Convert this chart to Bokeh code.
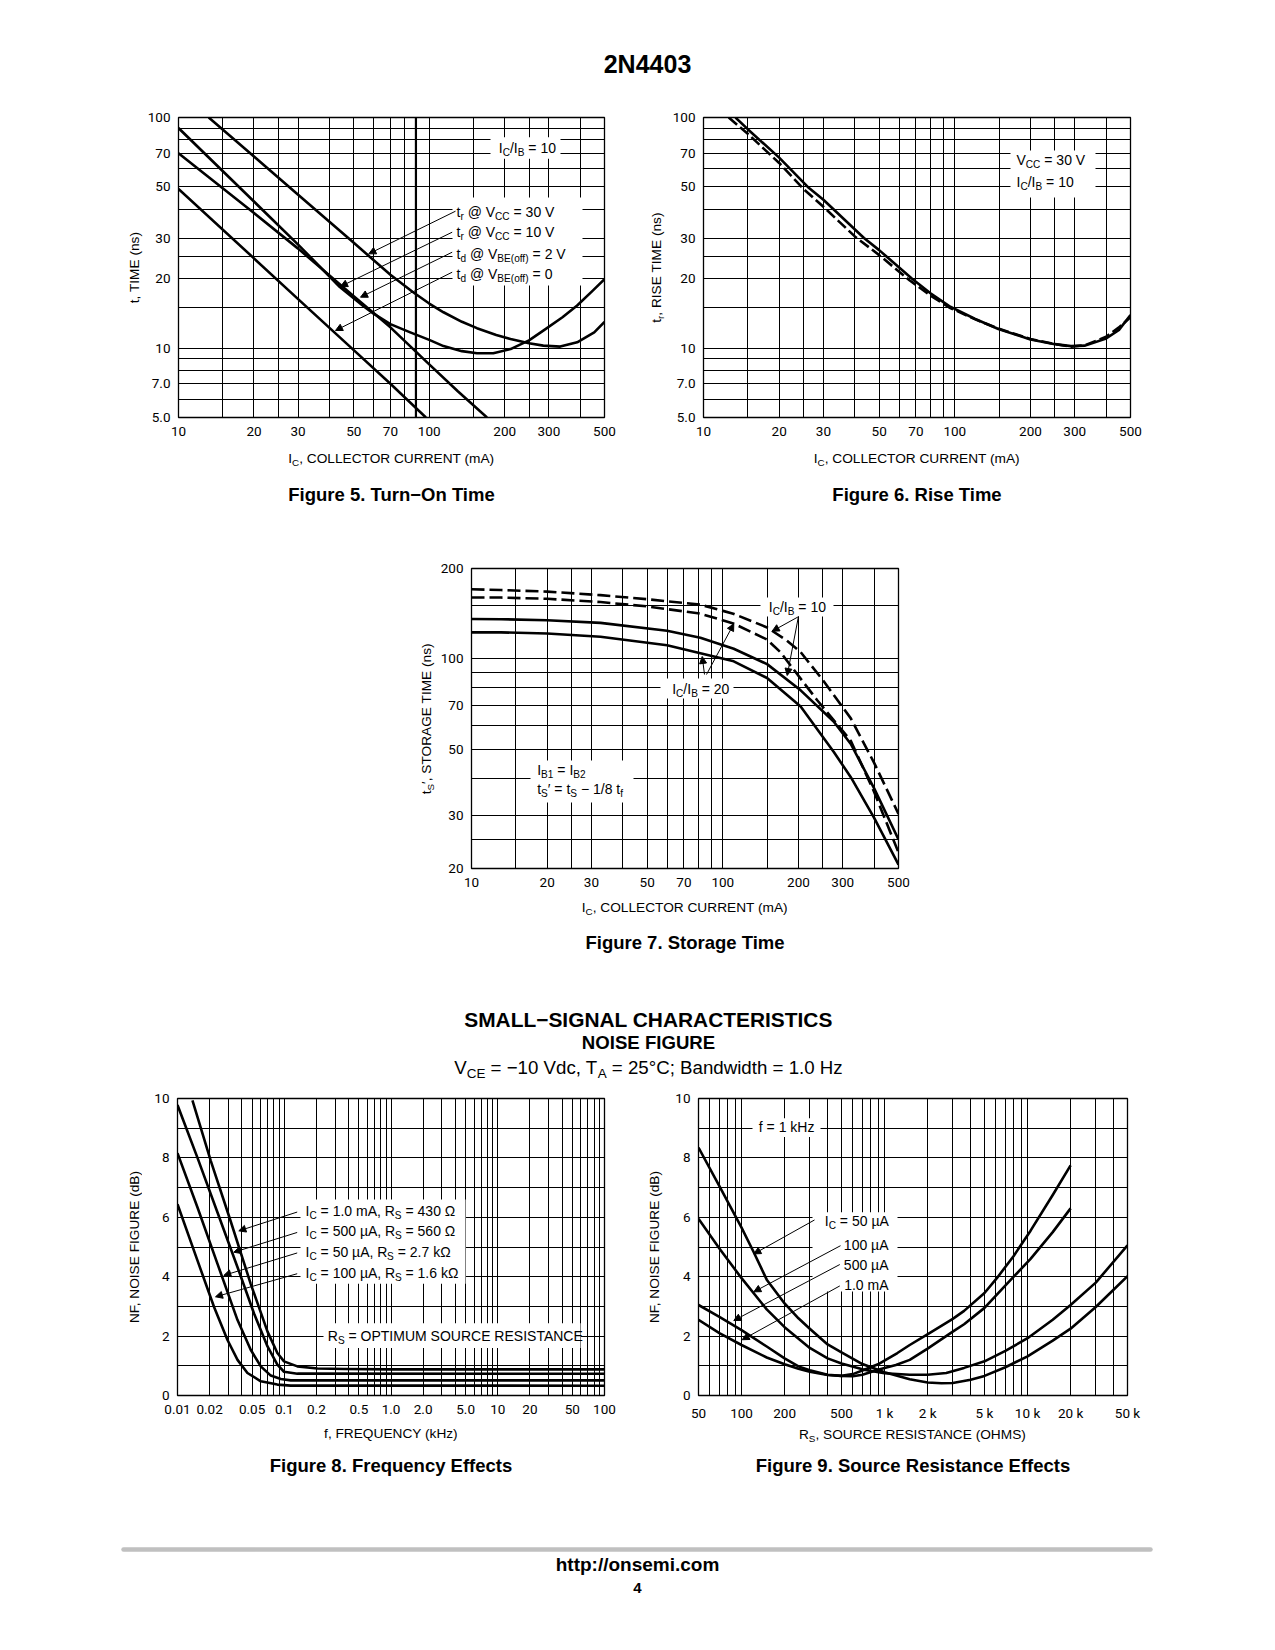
import math
from bokeh.plotting import figure
from bokeh.models import Range1d, FixedTicker, Label, Arrow, NormalHead, BoxAnnotation, Span
from bokeh.layouts import column, row
from bokeh.embed import file_html
from bokeh.resources import INLINE

# ------------------------------------------------------------------ DATA
# collector-current axis (Figures 5, 6, 7)
ic_ticks = [10, 20, 30, 50, 70, 100, 200, 300, 500]
ic_tick_labels = ["10", "20", "30", "50", "70", "100", "200", "300", "500"]
ic_grid = [10, 15, 20, 25, 30, 40, 50, 60, 70, 80, 90, 100, 150, 200, 250, 300, 400, 500]

# Figure 5 - Turn-On Time
f5_x_grid = [10, 15, 20, 25, 30, 40, 50, 60, 70, 80, 100, 150, 200, 250, 300, 400, 500]
f5_y_ticks = [5, 7, 10, 20, 30, 50, 70, 100]
f5_y_labels = ["5.0", "7.0", "10", "20", "30", "50", "70", "100"]
f5_y_grid = [5, 6, 7, 8, 9, 10, 15, 20, 25, 30, 40, 50, 60, 70, 80, 90, 100]
f5_mark_x = 88.5
f5_tr30_x = [13.2, 20, 30, 50, 70, 86, 100, 114, 135, 155, 185, 211, 250, 285, 333, 389, 455, 500]
f5_tr30_y = [100, 67.7, 46.2, 28.6, 20.8, 17.5, 15.6, 14.3, 13.0, 12.2, 11.4, 10.95, 10.5, 10.25, 10.15, 10.6, 11.7, 13.0]
f5_tr10_x = [10, 20, 30, 44, 55, 60, 70, 84, 100, 114, 135, 155, 180, 211, 250, 285, 340, 389, 450, 500]
f5_tr10_y = [90, 43.2, 28.1, 18.4, 15.1, 14.1, 12.7, 11.7, 10.85, 10.2, 9.7, 9.5, 9.5, 9.9, 10.8, 11.9, 13.6, 15.3, 17.8, 19.9]
f5_td2_x = [10, 20, 30, 50, 70, 100, 130, 170]
f5_td2_y = [70, 38.5, 27, 16.8, 12.3, 8.5, 6.5, 5.0]
f5_td0_x = [10, 20, 30, 50, 70, 97]
f5_td0_y = [49, 24.5, 16.3, 9.8, 7.0, 5.0]

# Figure 6 - Rise Time
f6_solid_x = [13.4, 15, 20, 26, 30, 43.5, 50, 67.6, 80, 95, 120, 149, 200, 250, 290, 330, 400, 450, 500]
f6_solid_y = [100, 89, 67, 50, 44, 30, 26.6, 20, 17.3, 15.2, 13.4, 12.1, 10.9, 10.4, 10.2, 10.25, 11.0, 12.0, 13.9]
f6_dash_x = [12.6, 15, 20, 25, 30, 40, 50, 66, 80, 95, 120, 149, 200, 250, 290, 330, 400, 450, 500]
f6_dash_y = [100, 85, 63.5, 49, 41, 30.5, 25.3, 19.7, 16.9, 15.0, 13.35, 12.15, 10.95, 10.4, 10.15, 10.3, 11.2, 12.3, 13.6]

# Figure 7 - Storage Time
f7_y_ticks = [20, 30, 50, 70, 100, 200]
f7_y_labels = ["20", "30", "50", "70", "100", "200"]
f7_y_grid = [20, 25, 30, 40, 50, 60, 70, 80, 90, 100, 150, 200]
f7_d1_x = [10, 13.1, 20, 32.6, 50, 81.4, 110, 150, 180, 204, 252, 323, 400, 500]
f7_d1_y = [170.6, 169.5, 167.5, 163, 158, 151.5, 141.4, 127.2, 115, 105.3, 84.2, 63.3, 45, 30.4]
f7_d2_x = [10, 13.1, 20, 32.6, 50, 81.4, 110, 150, 170, 186, 237, 323, 400, 500]
f7_d2_y = [160, 160, 158.5, 154.6, 149.5, 141.4, 131.2, 115.9, 105, 95, 72.9, 53.3, 36, 22.6]
f7_s1_x = [10, 13.1, 20, 32.6, 60, 81.4, 110.5, 150, 204, 276, 323, 400, 500]
f7_s1_y = [135.8, 135.5, 134.5, 131.8, 124, 117.5, 108, 96, 78.5, 61.8, 52, 37, 25]
f7_s2_x = [10, 13.1, 20, 32.6, 60, 110.5, 150, 204, 276, 323, 400, 500]
f7_s2_y = [122.5, 122.5, 121.5, 118.4, 110.9, 98.1, 86.3, 69.4, 49, 40.3, 29.5, 20.6]

# Figure 8 - Frequency Effects
f8_x_ticks = [0.01, 0.02, 0.05, 0.1, 0.2, 0.5, 1, 2, 5, 10, 20, 50, 100]
f8_x_labels = ["0.01", "0.02", "0.05", "0.1", "0.2", "0.5", "1.0", "2.0", "5.0", "10", "20", "50", "100"]
f8_x_grid = [m * 10.0 ** e for e in (-2, -1, 0, 1) for m in range(1, 10)] + [100]
nf_ticks = [0, 2, 4, 6, 8, 10]
nf_labels = ["0", "2", "4", "6", "8", "10"]
nf_grid = [0, 1, 2, 3, 4, 5, 6, 7, 8, 9, 10]
f8_a_x = [0.0138, 0.0205, 0.0316, 0.0485, 0.0697, 0.0862, 0.0995, 0.1327, 0.2044, 0.363, 1.0, 100]
f8_a_y = [9.94, 7.9, 5.85, 3.76, 2.15, 1.43, 1.15, 0.98, 0.91, 0.89, 0.88, 0.88]
f8_b_x = [0.01, 0.0154, 0.0237, 0.0365, 0.0521, 0.0697, 0.0862, 0.0995, 0.1327, 100]
f8_b_y = [9.78, 8.0, 6.16, 4.32, 2.76, 1.65, 1.04, 0.80, 0.735, 0.73]
f8_c_x = [0.01, 0.0154, 0.0237, 0.0365, 0.0485, 0.0603, 0.0748, 0.0929, 0.115, 100]
f8_c_y = [8.16, 6.33, 4.43, 2.54, 1.54, 0.98, 0.67, 0.557, 0.51, 0.51]
f8_d_x = [0.01, 0.0154, 0.022, 0.0294, 0.0365, 0.0452, 0.0603, 0.0862, 0.115, 100]
f8_d_y = [6.44, 4.54, 2.98, 1.87, 1.20, 0.757, 0.479, 0.367, 0.334, 0.33]

# Figure 9 - Source Resistance Effects
f9_x_ticks = [50, 100, 200, 500, 1000, 2000, 5000, 10000, 20000, 50000]
f9_x_labels = ["50", "100", "200", "500", "1 k", "2 k", "5 k", "10 k", "20 k", "50 k"]
f9_x_grid = [50, 60, 70, 80, 90] + [m * 10 ** e for e in (2, 3, 4) for m in range(1, 10) if m * 10 ** e <= 50000]
f9_50u_x = [50, 70, 100, 121, 150, 200, 250, 300, 400, 500, 700, 1000, 1500, 2000, 2500, 3000, 4000, 5000, 7000, 10000, 15000, 20000, 30000, 50000]
f9_50u_y = [8.35, 7.05, 5.65, 4.85, 3.9, 3.1, 2.6, 2.25, 1.72, 1.45, 1.06, 0.78, 0.55, 0.44, 0.41, 0.42, 0.53, 0.66, 0.95, 1.32, 1.85, 2.25, 2.98, 4.02]
f9_100u_x = [50, 70, 100, 150, 200, 300, 400, 500, 700, 1000, 1500, 2000, 2700, 3600, 5000, 7000, 10000, 15000, 20000, 30000, 50000]
f9_100u_y = [5.95, 4.95, 3.95, 2.9, 2.3, 1.6, 1.25, 1.08, 0.88, 0.75, 0.70, 0.70, 0.76, 0.93, 1.15, 1.5, 1.93, 2.55, 3.05, 3.8, 5.06]
f9_500u_x = [50, 70, 100, 150, 200, 250, 300, 400, 500, 600, 700, 900, 1200, 1500, 2000, 3000, 3600, 5000, 6100, 8000, 10500, 15000, 20000]
f9_500u_y = [3.05, 2.65, 2.2, 1.65, 1.25, 0.98, 0.85, 0.70, 0.66, 0.65, 0.70, 0.87, 1.03, 1.2, 1.58, 2.15, 2.4, 2.95, 3.4, 4.0, 4.6, 5.5, 6.3]
f9_1m_x = [50, 70, 100, 150, 200, 250, 300, 400, 500, 600, 700, 900, 1230, 1500, 2090, 3000, 3600, 5000, 6100, 8000, 10500, 15000, 20000]
f9_1m_y = [2.55, 2.1, 1.7, 1.28, 1.05, 0.9, 0.8, 0.69, 0.66, 0.72, 0.84, 1.05, 1.43, 1.7, 2.12, 2.58, 2.85, 3.45, 3.95, 4.7, 5.55, 6.75, 7.75]

# ------------------------------------------------------------------ STYLE
TICK_FONT = "Roboto"
TICK_SIZE = "13.5px"
TXT_FONT = "Liberation Sans"
CURVE_W = 2.6
SUB = 0.72
MID = 0.36   # rendered labels centre their capitals on the anchor

AW = {' ': 278, '(': 333, ')': 333, ',': 278, '-': 333, '.': 278, '/': 278, ':': 278, ';': 278,
      '=': 584, '@': 1015, 'A': 667, 'B': 667, 'C': 722, 'D': 722, 'E': 667, 'F': 611, 'G': 778,
      'H': 722, 'I': 278, 'K': 667, 'L': 556, 'M': 833, 'N': 722, 'O': 778, 'P': 667, 'Q': 778,
      'R': 722, 'S': 667, 'T': 611, 'U': 722, 'V': 667, 'W': 944, 'Y': 667, 'a': 556, 'b': 556,
      'c': 500, 'd': 556, 'e': 556, 'f': 278, 'g': 556, 'h': 556, 'i': 222, 'k': 500, 'l': 222,
      'm': 833, 'n': 556, 'o': 556, 'p': 556, 'r': 333, 's': 500, 't': 278, 'u': 556, 'v': 500,
      'w': 722, 'z': 500, '\u00b5': 556, '\u03a9': 768, '\u00b0': 400, '\u2212': 584, '\u2032': 191}


def tw(s, size):
    return sum(AW.get(ch, 556) for ch in s) * size / 1000.0


class Conv:
    """page pixel -> data coordinate for one figure"""
    def __init__(self, L, T, R, B, xr, yr, xlog=False, ylog=False):
        self.L, self.T, self.R, self.B = L, T, R, B
        self.xr, self.yr, self.xlog, self.ylog = xr, yr, xlog, ylog

    @staticmethod
    def _m(t, a, b, lg):
        return a * (b / a) ** t if lg else a + (b - a) * t

    def x(self, px):
        return self._m((px - self.L) / (self.R - self.L), self.xr[0], self.xr[1], self.xlog)

    def y(self, py):
        return self._m((self.B - py) / (self.B - self.T), self.yr[0], self.yr[1], self.ylog)


def _label(p, cv, X, Y, txt, fs, align, rotated, style, font):
    if rotated:
        X = X - MID * fs
    else:
        Y = Y - MID * fs
    p.add_layout(Label(x=cv.x(X), y=cv.y(Y), text=txt, angle=math.pi / 2 if rotated else 0.0,
                       text_font=font, text_font_size=f"{fs:.2f}px", text_font_style=style,
                       text_align=align, text_baseline="alphabetic", text_color="black"))


def rich(p, cv, px, py, parts, size, align="left", rotated=False, bold=False, font=TXT_FONT):
    """(px, py) = baseline anchor in page pixels"""
    if isinstance(parts, str):
        parts = [(parts, 0)]
    style = "bold" if bold else "normal"
    if len(parts) == 1:
        _label(p, cv, px, py, parts[0][0], size, align, rotated, style, font)
        return
    sizes = [size * SUB if s else size for _, s in parts]
    widths = [tw(t, fs) for (t, _), fs in zip(parts, sizes)]
    total = sum(widths)
    pos = {"left": 0.0, "center": -total / 2.0, "right": -total}[align]
    for (t, s), fs, w in zip(parts, sizes, widths):
        lead = len(t) - len(t.lstrip(" "))
        off = pos + tw(" " * lead, fs)
        drop = 0.22 * size if s else 0.0
        if rotated:
            X, Y = px + drop, py - off
        else:
            X, Y = px + off, py + drop
        txt = t.strip(" ")
        if txt:
            _label(p, cv, X, Y, txt, fs, "left", rotated, style, font)
        pos += w


def arrow(p, cv, x0, y0, x1, y1):
    p.add_layout(Arrow(end=NormalHead(size=7, fill_color="black", line_color="black", line_width=1),
                       x_start=cv.x(x0), y_start=cv.y(y0), x_end=cv.x(x1), y_end=cv.y(y1),
                       line_color="black", line_width=1))


def wbox(p, cv, x0, y0, x1, y1):
    p.add_layout(BoxAnnotation(left=cv.x(x0), right=cv.x(x1), top=cv.y(y0), bottom=cv.y(y1),
                               fill_color="white", fill_alpha=1.0, line_color=None, level="glyph"))


def page_fig(x0, y0, x1, y1, top=0, bottom=0):
    T, B = y0 + top, y1 - bottom
    p = figure(width=x1 - x0, height=y1 - y0, x_range=Range1d(x0, x1), y_range=Range1d(B, T),
               x_axis_type=None, y_axis_type=None, toolbar_location=None, output_backend="svg",
               min_border_left=0, min_border_right=0, min_border_top=top, min_border_bottom=bottom)
    p.outline_line_color = None
    return p, Conv(x0, T, x1, B, (x0, x1), (B, T))


def chart(rect, frame, xr, yr, xlog, ylog, xt, xl, yt, yl, xg, yg):
    fx0, fy0, fx1, fy1 = rect
    L, T, R, B = frame
    p = figure(width=fx1 - fx0, height=fy1 - fy0, x_range=Range1d(*xr), y_range=Range1d(*yr),
               x_axis_type="log" if xlog else "linear", y_axis_type="log" if ylog else "linear",
               toolbar_location=None, output_backend="svg",
               min_border_left=L - fx0, min_border_right=fx1 - R,
               min_border_top=T - fy0, min_border_bottom=fy1 - B)
    p.outline_line_color = "black"
    p.outline_line_width = 1.3
    for ax, ticks, labels in ((p.xaxis[0], xt, xl), (p.yaxis[0], yt, yl)):
        ax.ticker = FixedTicker(ticks=ticks, minor_ticks=[])
        ax.major_label_overrides = {t: s for t, s in zip(ticks, labels)}
        ax.axis_line_color = None
        ax.major_tick_line_color = None
        ax.minor_tick_line_color = None
        ax.major_tick_out = 0
        ax.major_tick_in = 0
        ax.major_label_text_font = TICK_FONT
        ax.major_label_text_font_size = TICK_SIZE
        ax.major_label_text_color = "black"
    p.xaxis[0].major_label_standoff = 9
    p.yaxis[0].major_label_standoff = 8
    p.xgrid[0].ticker = FixedTicker(ticks=xg, minor_ticks=[])
    p.ygrid[0].ticker = FixedTicker(ticks=yg, minor_ticks=[])
    for g in (p.xgrid[0], p.ygrid[0]):
        g.grid_line_color = "black"
        g.grid_line_width = 1
        g.grid_line_alpha = 1.0
    return p, Conv(L, T, R, B, xr, yr, xlog, ylog)


def curve(p, xs, ys, dash="solid"):
    p.line(xs, ys, line_width=CURVE_W, line_color="black", line_dash=dash, line_join="round")


IC_IB_10 = [("I", 0), ("C", 1), ("/I", 0), ("B", 1), (" = 10", 0)]
IC_IB_20 = [("I", 0), ("C", 1), ("/I", 0), ("B", 1), (" = 20", 0)]
IC_LABEL = [("I", 0), ("C", 1), (", COLLECTOR CURRENT (mA)", 0)]
AX = 13.7   # axis-label size
AN = 14     # annotation size
W = 1272

# ------------------------------------------------------------------ header
hdr, chd = page_fig(0, 0, W, 100)
rich(hdr, chd, 647, 72, "2N4403", 25, "center", bold=True)

# ------------------------------------------------------------------ band 2 : Figures 5 and 6
yl5, cy5 = page_fig(0, 100, 144, 442, 17, 25)
p5, c5 = chart((144, 100, 640, 442), (178, 117, 604, 417), (10, 500), (5, 100), True, True,
               ic_ticks, ic_tick_labels, f5_y_ticks, f5_y_labels, f5_x_grid, f5_y_grid)
wbox(p5, c5, 490, 136.7, 560, 158.3)
wbox(p5, c5, 452, 197, 582, 285)
p5.add_layout(Span(location=f5_mark_x, dimension="height", line_color="black", line_width=2.2))
curve(p5, f5_tr30_x, f5_tr30_y)
curve(p5, f5_tr10_x, f5_tr10_y)
curve(p5, f5_td2_x, f5_td2_y)
curve(p5, f5_td0_x, f5_td0_y)
rich(p5, c5, 498.3, 153, IC_IB_10, AN)
rich(p5, c5, 456, 216.7, [("t", 0), ("r", 1), (" @ V", 0), ("CC", 1), (" = 30 V", 0)], AN)
rich(p5, c5, 456, 236.7, [("t", 0), ("r", 1), (" @ V", 0), ("CC", 1), (" = 10 V", 0)], AN)
rich(p5, c5, 456, 258.3, [("t", 0), ("d", 1), (" @ V", 0), ("BE(off)", 1), (" = 2 V", 0)], AN)
rich(p5, c5, 456, 278.3, [("t", 0), ("d", 1), (" @ V", 0), ("BE(off)", 1), (" = 0", 0)], AN)
arrow(p5, c5, 455, 210.7, 368.3, 253.3)
arrow(p5, c5, 451.7, 231.7, 340, 286)
arrow(p5, c5, 451.7, 251.7, 360, 296.7)
arrow(p5, c5, 451.7, 271.7, 335, 330)
rich(yl5, cy5, 138.5, 267, "t, TIME (ns)", AX, "center", rotated=True)

yl6, cy6 = page_fig(640, 100, 669, 442, 17, 25)
p6, c6 = chart((669, 100, W, 442), (703, 117, 1130, 417), (10, 500), (5, 100), True, True,
               ic_ticks, ic_tick_labels, f5_y_ticks, f5_y_labels, ic_grid, f5_y_grid)
wbox(p6, c6, 1010, 150, 1095, 197)
curve(p6, f6_solid_x, f6_solid_y)
curve(p6, f6_dash_x, f6_dash_y, "11 4")
rich(p6, c6, 1016, 165, [("V", 0), ("CC", 1), (" = 30 V", 0)], AN)
rich(p6, c6, 1016, 186.7, IC_IB_10, AN)
rich(yl6, cy6, 660.5, 267, [("t", 0), ("r", 1), (", RISE TIME (ns)", 0)], AX, "center", rotated=True)

# ------------------------------------------------------------------ band 3 : x labels + captions 5/6
b3, cb3 = page_fig(0, 442, W, 548)
rich(b3, cb3, 391, 463, IC_LABEL, AX, "center")
rich(b3, cb3, 916.5, 463, IC_LABEL, AX, "center")
rich(b3, cb3, 391, 501, "Figure 5. Turn\u2212On Time", 18.5, "center", bold=True)
rich(b3, cb3, 916.5, 501, "Figure 6. Rise Time", 18.5, "center", bold=True)

# ------------------------------------------------------------------ band 4 : Figure 7
yl7, cy7 = page_fig(0, 548, 436, 893, 20, 25)
p7, c7 = chart((436, 548, W, 893), (471, 568, 898, 868), (10, 500), (20, 200), True, True,
               ic_ticks, ic_tick_labels, f7_y_ticks, f7_y_labels, ic_grid, f7_y_grid)
wbox(p7, c7, 760, 597, 833, 616)
wbox(p7, c7, 660, 678, 733, 698)
wbox(p7, c7, 530, 760, 633, 802)
curve(p7, f7_d1_x, f7_d1_y, "13 5")
curve(p7, f7_d2_x, f7_d2_y, "13 5")
curve(p7, f7_s1_x, f7_s1_y)
curve(p7, f7_s2_x, f7_s2_y)
rich(p7, c7, 768.3, 611.7, IC_IB_10, AN)
rich(p7, c7, 671.7, 693.3, IC_IB_20, AN)
rich(p7, c7, 536.7, 775, [("I", 0), ("B1", 1), (" = I", 0), ("B2", 1)], AN)
rich(p7, c7, 536.7, 793.3, [("t", 0), ("S", 1), ("\u2032 = t", 0), ("S", 1), (" \u2212 1/8 t", 0), ("f", 1)], AN)
arrow(p7, c7, 798.3, 616, 771.7, 630.7)
arrow(p7, c7, 797.7, 617.3, 786.7, 675)
arrow(p7, c7, 704, 674, 701.7, 656)
arrow(p7, c7, 706, 674, 733.3, 623.3)
rich(yl7, cy7, 431, 718, [("t", 0), ("S", 1), ("\u2032, STORAGE TIME (ns)", 0)], AX, "center", rotated=True)

# ------------------------------------------------------------------ band 5 : x label, caption 7, heading
b5, cb5 = page_fig(0, 893, W, 1082)
rich(b5, cb5, 684.5, 912, IC_LABEL, AX, "center")
rich(b5, cb5, 684.5, 949, "Figure 7. Storage Time", 18.5, "center", bold=True)
rich(b5, cb5, 648, 1026.5, "SMALL\u2212SIGNAL CHARACTERISTICS", 20.9, "center", bold=True)
rich(b5, cb5, 648, 1048.8, "NOISE FIGURE", 18.6, "center", bold=True)
rich(b5, cb5, 648, 1074, [("V", 0), ("CE", 1), (" = \u221210 Vdc, T", 0), ("A", 1),
                          (" = 25\u00b0C; Bandwidth = 1.0 Hz", 0)], 18.7, "center")

# ------------------------------------------------------------------ band 6 : Figures 8 and 9
yl8, cy8 = page_fig(0, 1082, 142, 1423, 16, 25)
p8, c8 = chart((142, 1082, 640, 1423), (177, 1098, 604, 1398), (0.01, 100), (0, 10), True, False,
               f8_x_ticks, f8_x_labels, nf_ticks, nf_labels, f8_x_grid, nf_grid)
wbox(p8, c8, 300, 1200, 465, 1285)
wbox(p8, c8, 323, 1325, 580, 1350)
curve(p8, f8_a_x, f8_a_y)
curve(p8, f8_b_x, f8_b_y)
curve(p8, f8_c_x, f8_c_y)
curve(p8, f8_d_x, f8_d_y)
rich(p8, c8, 305, 1216.7, [("I", 0), ("C", 1), (" = 1.0 mA, R", 0), ("S", 1), (" = 430 \u03a9", 0)], AN)
rich(p8, c8, 305, 1237.3, [("I", 0), ("C", 1), (" = 500 \u00b5A, R", 0), ("S", 1), (" = 560 \u03a9", 0)], AN)
rich(p8, c8, 305, 1258.3, [("I", 0), ("C", 1), (" = 50 \u00b5A, R", 0), ("S", 1), (" = 2.7 k\u03a9", 0)], AN)
rich(p8, c8, 305, 1279, [("I", 0), ("C", 1), (" = 100 \u00b5A, R", 0), ("S", 1), (" = 1.6 k\u03a9", 0)], AN)
rich(p8, c8, 327.3, 1343.3, [("R", 0), ("S", 1), (" = OPTIMUM SOURCE RESISTANCE", 0)], AN)
arrow(p8, c8, 296.7, 1212.7, 238.3, 1231.7)
arrow(p8, c8, 296.7, 1233.3, 233.3, 1253.3)
arrow(p8, c8, 296.7, 1254, 223.3, 1276.7)
arrow(p8, c8, 296.7, 1275, 215, 1298.3)
rich(yl8, cy8, 139, 1248, "NF, NOISE FIGURE (dB)", AX, "center", rotated=True)

yl9, cy9 = page_fig(640, 1082, 663, 1423, 16, 25)
p9, c9 = chart((663, 1082, W, 1423), (698, 1098, 1127, 1398), (50, 50000), (0, 10), True, False,
               f9_x_ticks, f9_x_labels, nf_ticks, nf_labels, f9_x_grid, nf_grid)
wbox(p9, c9, 752, 1118, 820, 1137)
wbox(p9, c9, 812, 1213, 897, 1293)
curve(p9, f9_50u_x, f9_50u_y)
curve(p9, f9_100u_x, f9_100u_y)
curve(p9, f9_500u_x, f9_500u_y)
curve(p9, f9_1m_x, f9_1m_y)
rich(p9, c9, 758.3, 1132.3, "f = 1 kHz", AN)
rich(p9, c9, 888, 1226.7, [("I", 0), ("C", 1), (" = 50 \u00b5A", 0)], AN, "right")
rich(p9, c9, 888, 1250.7, "100 \u00b5A", AN, "right")
rich(p9, c9, 888, 1271.7, "500 \u00b5A", AN, "right")
rich(p9, c9, 888, 1291.7, "1.0 mA", AN, "right")
arrow(p9, c9, 814, 1220.7, 753.3, 1255)
arrow(p9, c9, 840, 1246.7, 753.3, 1293.3)
arrow(p9, c9, 839.3, 1265.7, 733.3, 1322.3)
arrow(p9, c9, 839.3, 1287.3, 741.7, 1341.7)
rich(yl9, cy9, 659, 1248, "NF, NOISE FIGURE (dB)", AX, "center", rotated=True)

# ------------------------------------------------------------------ band 7 : x labels, captions, footer
b7, cb7 = page_fig(0, 1423, W, 1646)
rich(b7, cb7, 390.5, 1438, "f, FREQUENCY (kHz)", AX, "center")
rich(b7, cb7, 912.5, 1438.5, [("R", 0), ("S", 1), (", SOURCE RESISTANCE (OHMS)", 0)], AX, "center")
rich(b7, cb7, 390.5, 1471.5, "Figure 8. Frequency Effects", 18.5, "center", bold=True)
rich(b7, cb7, 912.5, 1471.5, "Figure 9. Source Resistance Effects", 18.5, "center", bold=True)
RULE = (123, 1150, 1549)
b7.segment(x0=[RULE[0]], y0=[RULE[2]], x1=[RULE[1]], y1=[RULE[2]], line_width=4.5,
           line_color="#c0c0c0", line_cap="round")
rich(b7, cb7, 637, 1571, "http://onsemi.com", 19, "center", bold=True)
rich(b7, cb7, 637, 1593, "4", 15, "center", bold=True)

layout = column(hdr, row(yl5, p5, yl6, p6), b3, row(yl7, p7), b5, row(yl8, p8, yl9, p9), b7)
open("out.html", "w").write(file_html(layout, INLINE, title="2N4403"))
